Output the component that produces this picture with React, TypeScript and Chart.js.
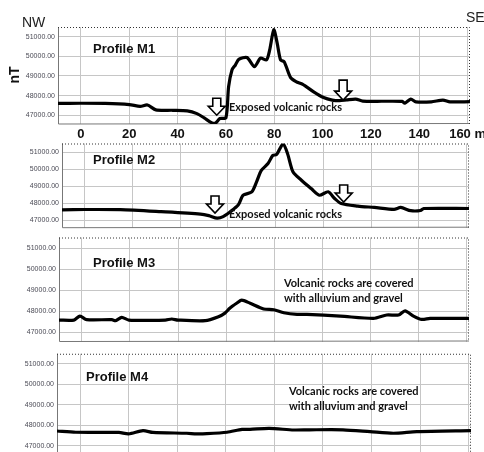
import React, { useEffect, useRef } from "react";
import { Chart, registerables } from "chart.js";

Chart.register(...registerables);

// ---------- data ----------
const X_MIN = -9.5;
const X_MAX = 161;
const Y_MIN = 46550;
const Y_MAX = 51500;
const X_TICKS = [0, 20, 40, 60, 80, 100, 120, 140, 160];
const Y_TICKS = [47000, 48000, 49000, 50000, 51000];

const m1X = [-9.5, 0, 10, 20, 24.5, 27.5, 31, 38, 44, 48, 51, 54, 55.6, 57.5, 60, 61.1, 62.5, 63.9, 65.3, 68.7, 71.8, 74.3, 76.8, 78.1, 79.8, 81.2, 82.6, 84.1, 86.7, 89, 91.8, 96.3, 100.4, 104, 107, 110, 113.7, 116.6, 125, 133, 134, 136.5, 138.6, 145, 149.8, 152.7, 161];
const m1Y = [47600, 47610, 47600, 47540, 47450, 47520, 47270, 47250, 47220, 47080, 46860, 46620, 46590, 46830, 46870, 48450, 49310, 49560, 49850, 49940, 49480, 49910, 49820, 50330, 51360, 50680, 49820, 49730, 48930, 48710, 48570, 48190, 47900, 47770, 47740, 47780, 47820, 47720, 47710, 47700, 47610, 47820, 47680, 47680, 47770, 47680, 47690];

const m2X = [-9.5, 0, 15, 32, 48.5, 52, 55.5, 58, 61, 64.3, 66.4, 70, 72, 74, 76.8, 78.8, 80.4, 83.1, 85, 87.3, 90.8, 94.9, 98.3, 102, 104.7, 107.5, 114.4, 121.3, 129.6, 132.4, 136.6, 140.7, 142, 161];
const m2Y = [47600, 47620, 47610, 47490, 47350, 47260, 47110, 47200, 47490, 47880, 48460, 48650, 49240, 49920, 50320, 50800, 50850, 51480, 50900, 49820, 49340, 48850, 48460, 48660, 48270, 47970, 47820, 47740, 47630, 47740, 47550, 47560, 47680, 47680];

const m3X = [-9.5, -3.3, -0.8, 2, 12.5, 14, 16.6, 19.5, 34.7, 37.4, 40, 51.3, 56.8, 59.5, 61.5, 64.5, 66.5, 70, 75.6, 79.8, 84, 89.5, 93.6, 107.5, 121.3, 126.8, 131.7, 134.4, 137.9, 141.4, 144.8, 161];
const m3Y = [47570, 47570, 47760, 47590, 47590, 47540, 47700, 47570, 47570, 47620, 47570, 47540, 47730, 47900, 48130, 48380, 48520, 48370, 48100, 48060, 47920, 47840, 47840, 47760, 47650, 47810, 47810, 48010, 47760, 47600, 47650, 47650];

const m4X = [-9.5, -1.8, 16, 20, 25.9, 30, 43.9, 48, 52.2, 60.5, 66.7, 70, 77.9, 88, 94.5, 108.3, 119.4, 129, 138.7, 161];
const m4Y = [47730, 47670, 47660, 47590, 47750, 47660, 47620, 47590, 47600, 47670, 47810, 47810, 47860, 47780, 47790, 47790, 47700, 47620, 47700, 47750];

const profileLabels = ["Profile M1", "Profile M2", "Profile M3", "Profile M4"];
const exposedText = "Exposed volcanic rocks";
const coveredText = ["Volcanic rocks are covered", "with alluvium and gravel"];

// ---------- layout ----------
type TextItem = { t: string; x: number; y: number; font: string };
type ArrowItem = { x: number; tip: number; len: number };
type Panel = {
  xs: number[];
  ys: number[];
  top: number;
  height: number;
  padTop: number;
  padBottom: number;
  left: number;
  right: number;
  showX: boolean;
  xAxisH: number;
  texts: TextItem[];
  arrows: ArrowItem[];
};

const W = 484;
const LABEL_FONT = "bold 13px 'Liberation Sans', Arial, sans-serif";
const NOTE_FONT = "bold 11px Lato, 'Open Sans', sans-serif";

const panels: Panel[] = [
  {
    xs: m1X, ys: m1Y, top: 0, height: 145, padTop: 27, padBottom: 0, left: 58, right: 470, showX: true, xAxisH: 21,
    texts: [
      { t: profileLabels[0], x: 93, y: 53, font: LABEL_FONT },
      { t: exposedText, x: 229, y: 111, font: NOTE_FONT },
    ],
    arrows: [
      { x: 56.2, tip: 47000, len: 17 },
      { x: 108.5, tip: 47770, len: 20 },
    ],
  },
  {
    xs: m2X, ys: m2Y, top: 136, height: 95, padTop: 7.5, padBottom: 3.3, left: 62, right: 469, showX: false, xAxisH: 0,
    texts: [
      { t: profileLabels[1], x: 93, y: 164, font: LABEL_FONT },
      { t: exposedText, x: 229, y: 218, font: NOTE_FONT },
    ],
    arrows: [
      { x: 54.6, tip: 47410, len: 17 },
      { x: 108.5, tip: 48060, len: 17 },
    ],
  },
  {
    xs: m3X, ys: m3Y, top: 231, height: 115, padTop: 6.5, padBottom: 4.5, left: 59, right: 469, showX: false, xAxisH: 0,
    texts: [
      { t: profileLabels[2], x: 93, y: 267, font: LABEL_FONT },
      { t: coveredText[0], x: 284, y: 287, font: NOTE_FONT },
      { t: coveredText[1], x: 284, y: 302, font: NOTE_FONT },
    ],
    arrows: [],
  },
  {
    xs: m4X, ys: m4Y, top: 347, height: 112, padTop: 6.75, padBottom: 3.8, left: 57, right: 471, showX: false, xAxisH: 0,
    texts: [
      { t: profileLabels[3], x: 86, y: 381, font: LABEL_FONT },
      { t: coveredText[0], x: 289, y: 395, font: NOTE_FONT },
      { t: coveredText[1], x: 289, y: 410, font: NOTE_FONT },
    ],
    arrows: [],
  },
];

const framePlugin = {
  id: "frame",
  beforeDatasetsDraw(chart: any) {
    const { ctx, chartArea: a } = chart;
    ctx.save();
    ctx.lineWidth = 1;
    ctx.strokeStyle = "#777";
    ctx.beginPath();
    ctx.moveTo(a.left + 0.5, a.top);
    ctx.lineTo(a.left + 0.5, a.bottom);
    ctx.lineTo(a.right, a.bottom - 0.5);
    ctx.stroke();
    ctx.strokeStyle = "#333";
    ctx.setLineDash([1, 2]);
    ctx.beginPath();
    ctx.moveTo(a.left, a.top + 0.5);
    ctx.lineTo(a.right - 0.5, a.top + 0.5);
    ctx.lineTo(a.right - 0.5, a.bottom);
    ctx.stroke();
    ctx.restore();
  },
};

function makeNotesPlugin(p: Panel) {
  return {
    id: "notes",
    afterDatasetsDraw(chart: any) {
      const { ctx } = chart;
      const xs = chart.scales.x;
      const ys = chart.scales.y;
      ctx.save();
      ctx.fillStyle = "#111";
      ctx.textBaseline = "alphabetic";
      ctx.textAlign = "left";
      for (const t of p.texts) {
        ctx.font = t.font;
        ctx.fillText(t.t, t.x, t.y - p.top);
      }
      for (const ar of p.arrows) {
        const cx = xs.getPixelForValue(ar.x);
        const tip = ys.getPixelForValue(ar.tip);
        const top = tip - ar.len;
        const headH = 9;
        const sw = 4;
        const hw = 8.5;
        ctx.beginPath();
        ctx.moveTo(cx - sw, top);
        ctx.lineTo(cx + sw, top);
        ctx.lineTo(cx + sw, tip - headH);
        ctx.lineTo(cx + hw, tip - headH);
        ctx.lineTo(cx, tip);
        ctx.lineTo(cx - hw, tip - headH);
        ctx.lineTo(cx - sw, tip - headH);
        ctx.closePath();
        ctx.fillStyle = "#fff";
        ctx.fill();
        ctx.lineWidth = 1.6;
        ctx.strokeStyle = "#000";
        ctx.lineJoin = "miter";
        ctx.stroke();
      }
      ctx.restore();
    },
  };
}

function PanelChart({ p }: { p: Panel }) {
  const ref = useRef<HTMLCanvasElement | null>(null);
  useEffect(() => {
    if (!ref.current) return;
    const chart = new Chart(ref.current, {
      type: "line",
      data: {
        datasets: [
          {
            data: p.xs.map((x, i) => ({ x, y: p.ys[i] })),
            borderColor: "#000",
            borderWidth: 3.2,
            pointRadius: 0,
            tension: 0.25,
            fill: false,
          },
        ],
      },
      options: {
        animation: false,
        responsive: false,
        maintainAspectRatio: false,
        layout: { padding: { top: p.padTop, bottom: p.padBottom, left: 0, right: W - p.right } },
        plugins: { legend: { display: false }, tooltip: { enabled: false } },
        scales: {
          x: {
            type: "linear",
            min: X_MIN,
            max: X_MAX,
            afterBuildTicks: (s: any) => {
              s.ticks = X_TICKS.map((v) => ({ value: v }));
            },
            afterFit: (s: any) => {
              s.height = p.xAxisH;
              s.paddingLeft = 0;
              s.paddingRight = 0;
            },
            grid: { color: "#c6c6c6", drawTicks: false, lineWidth: 1 },
            border: { display: false },
            ticks: {
              display: p.showX,
              padding: 3,
              color: "#111",
              font: { size: 13, weight: "bold", family: "'Liberation Sans', Arial, sans-serif" },
              maxRotation: 0,
              autoSkip: false,
              callback: (v: any) => (v === 160 ? "160 m" : String(v)),
            },
          },
          y: {
            type: "linear",
            min: Y_MIN,
            max: Y_MAX,
            afterBuildTicks: (s: any) => {
              s.ticks = Y_TICKS.map((v) => ({ value: v }));
            },
            afterFit: (s: any) => {
              s.width = p.left;
              s.paddingTop = 0;
              s.paddingBottom = 0;
            },
            grid: { color: "#c6c6c6", drawTicks: false, lineWidth: 1 },
            border: { display: false },
            ticks: {
              padding: 3,
              color: "#4a4a55",
              font: { size: 7, family: "'Liberation Sans', Arial, sans-serif" },
              autoSkip: false,
              callback: (v: any) => Number(v).toFixed(2),
            },
          },
        },
      } as any,
      plugins: [framePlugin, makeNotesPlugin(p)],
    });
    return () => chart.destroy();
  }, [p]);
  return (
    <canvas
      ref={ref}
      width={W}
      height={p.height}
      style={{ position: "absolute", left: 0, top: p.top, width: W, height: p.height }}
    />
  );
}

export default function App() {
  return (
    <div
      style={{
        position: "fixed",
        left: 0,
        top: 0,
        width: W,
        height: 452,
        overflow: "hidden",
        background: "#fff",
        fontFamily: "'Liberation Sans', Arial, sans-serif",
      }}
    >
      {panels.map((p, i) => (
        <PanelChart key={i} p={p} />
      ))}
      <div style={{ position: "absolute", left: 22, top: 14, fontSize: 14, color: "#222", lineHeight: "16px" }}>NW</div>
      <div style={{ position: "absolute", left: 466, top: 9, fontSize: 14, color: "#222", lineHeight: "16px" }}>SE</div>
      <div
        style={{
          position: "absolute",
          left: -1,
          top: 67,
          width: 30,
          textAlign: "center",
          fontSize: 14,
          fontWeight: "bold",
          color: "#111",
          lineHeight: "16px",
          transform: "rotate(-90deg)",
        }}
      >
        nT
      </div>
    </div>
  );
}
